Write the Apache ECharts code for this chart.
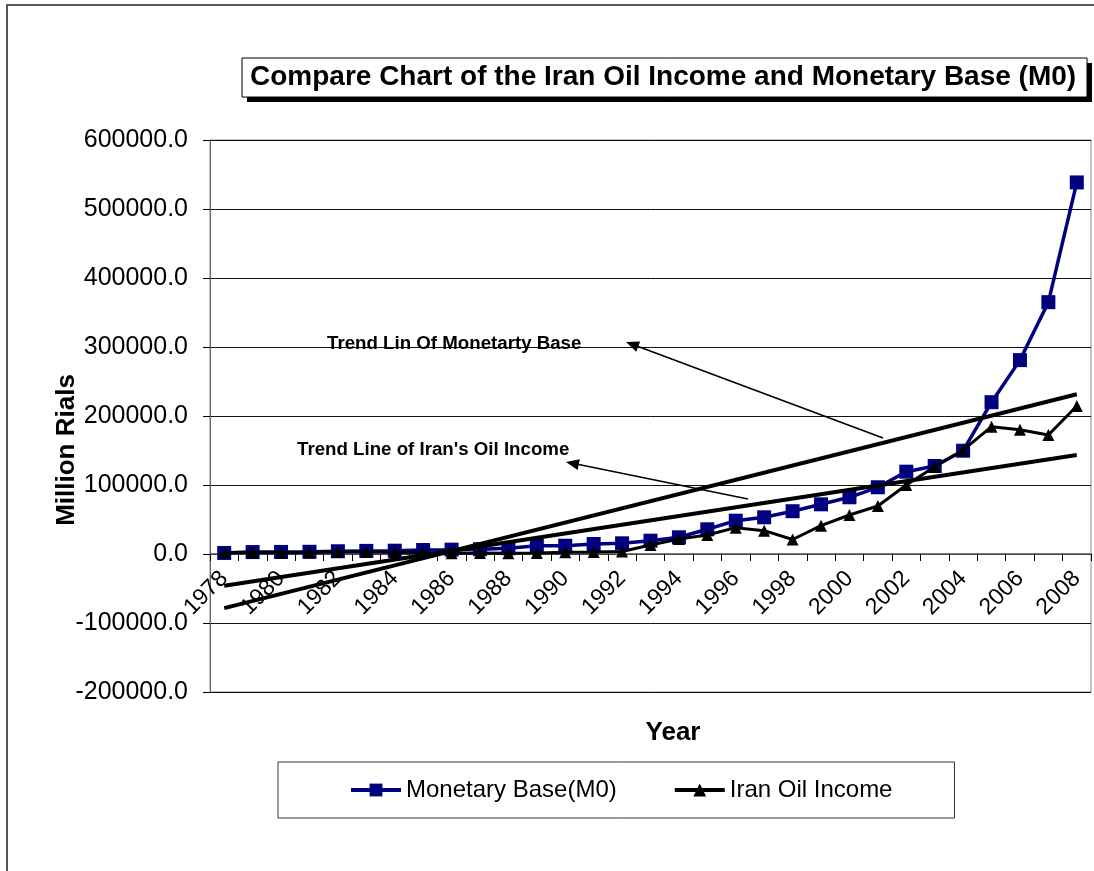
<!DOCTYPE html>
<html>
<head>
<meta charset="utf-8">
<script src="https://cdn.jsdelivr.net/npm/echarts@6/dist/echarts.min.js"></script>
<style>
html,body{margin:0;padding:0;background:#fff;}
#chart{width:1094px;height:871px;}
</style>
</head>
<body>
<div id="chart"></div>
<script>
// ---- data ----
const years = ['1978','1979','1980','1981','1982','1983','1984','1985','1986','1987',
  '1988','1989','1990','1991','1992','1993','1994','1995','1996','1997',
  '1998','1999','2000','2001','2002','2003','2004','2005','2006','2007','2008'];
const monetaryBase = [1500,2800,3000,3200,4000,4500,4800,5800,6300,7000,
  8300,12000,12000,14500,15500,19300,24200,35800,48300,53200,
  62000,72000,82200,96700,119300,127500,149700,220000,281000,365000,538500];
const oilIncome = [2000,2500,1800,2000,2800,3000,2500,1800,1200,1500,
  1200,1500,2500,2800,3500,13000,21700,27500,38200,33800,
  21000,41000,56500,69600,100000,126500,150500,184500,180000,172500,214500];
// trend line end points (first and last year)
const trendMonetaryEnds = [-78500, 231500];
const trendOilEnds = [-46000, 143500];
const yMin = -200000, yMax = 600000, yInterval = 100000;

const seriesNames = ['Monetary Base(M0)', 'Iran Oil Income'];
const titleText = 'Compare Chart of the Iran Oil Income and Monetary Base (M0)';
const annoMonetary = 'Trend Lin Of Monetarty Base';
const annoOil = "Trend Line of Iran's Oil Income";

function endsSeries(ends){
  const arr = years.map(() => null);
  arr[0] = ends[0];
  arr[arr.length - 1] = ends[1];
  return arr;
}

const FONT = "'Liberation Sans', Arial, sans-serif";
const W = 1094, H = 871;
const GRID = {left:210, right:3, top:140, bottom:179};
const plotH = H - GRID.top - GRID.bottom;
// place the category axis where the value axis crosses zero
const xAxisOffset = -plotH * (0 - yMin) / (yMax - yMin);

function arrow(tip, tail){
  const dx = tip[0]-tail[0], dy = tip[1]-tail[1];
  const len = Math.sqrt(dx*dx+dy*dy);
  const ux = dx/len, uy = dy/len;
  const L = 13, Wd = 5.5;
  const bx = tip[0]-L*ux, by = tip[1]-L*uy;
  const nx = -uy, ny = ux;
  return [
    {type:'line', shape:{x1:tail[0], y1:tail[1], x2:bx, y2:by}, style:{stroke:'#000', lineWidth:1.6}, z:100},
    {type:'polygon', shape:{points:[tip,[bx+Wd*nx,by+Wd*ny],[bx-Wd*nx,by-Wd*ny]]}, style:{fill:'#000'}, z:100}
  ];
}

const chart = echarts.init(document.getElementById('chart'));
chart.setOption({
  backgroundColor:'#fff',
  animation:false,
  textStyle:{fontFamily:FONT},
  title:{
    text:titleText,
    left:242, top:58,
    padding:[5,8,5,8],
    textStyle:{fontFamily:FONT, fontSize:28, fontWeight:'bold', color:'#000', lineHeight:29}
  },
  legend:{
    data:seriesNames,
    left:278, top:762,
    padding:[16,62,16,71],
    itemGap:56,
    itemWidth:50, itemHeight:16,
    borderColor:'#333', borderWidth:1,
    backgroundColor:'#fff',
    lineStyle:{width:4},
    textStyle:{fontFamily:FONT, fontSize:24, color:'#000'}
  },
  grid:{left:GRID.left, right:GRID.right, top:GRID.top, bottom:GRID.bottom, show:true, borderColor:'#888', borderWidth:1, containLabel:false},
  xAxis:{
    type:'category',
    data:years,
    boundaryGap:true,
    position:'bottom',
    offset:xAxisOffset,
    axisLine:{onZero:false, lineStyle:{color:'#555', width:1.5}},
    axisTick:{show:true, interval:0, alignWithLabel:false, length:7, lineStyle:{color:'#000'}},
    axisLabel:{interval:1, rotate:45, fontSize:23, color:'#000', margin:21, fontFamily:FONT},
    splitLine:{show:false}
  },
  yAxis:{
    type:'value',
    min:yMin, max:yMax, interval:yInterval,
    axisLine:{show:true, lineStyle:{color:'#666', width:1}},
    axisTick:{show:true, length:7, lineStyle:{color:'#000'}},
    axisLabel:{fontSize:25, color:'#000', margin:22, fontFamily:FONT, formatter:v => v.toFixed(1)},
    splitLine:{show:true, lineStyle:{color:'#111', width:1}}
  },
  series:[
    {name:seriesNames[0], type:'line', data:monetaryBase, symbol:'rect', symbolSize:14,
     lineStyle:{color:'#000080', width:3.5}, itemStyle:{color:'#000080'}, z:3},
    {name:seriesNames[1], type:'line', data:oilIncome, symbol:'triangle', symbolSize:12,
     lineStyle:{color:'#000', width:3}, itemStyle:{color:'#000'}, z:4},
    {name:'trendMonetary', type:'line', data:endsSeries(trendMonetaryEnds), connectNulls:true,
     symbol:'none', lineStyle:{color:'#000', width:4}, z:5, silent:true},
    {name:'trendOil', type:'line', data:endsSeries(trendOilEnds), connectNulls:true,
     symbol:'none', lineStyle:{color:'#000', width:4}, z:5, silent:true}
  ],
  graphic:[
    {type:'rect', shape:{x:7, y:5, width:1200, height:1000}, style:{fill:'none', stroke:'#222', lineWidth:1.5}, silent:true, z:-10},
    {type:'rect', shape:{x:247, y:63, width:845, height:39}, style:{fill:'#000'}, silent:true, z:-5},
    {type:'rect', shape:{x:242, y:58, width:845, height:39}, style:{fill:'#fff', stroke:'#000', lineWidth:1}, silent:true, z:-4},
    {type:'text', x:67, y:450, rotation:Math.PI/2,
     style:{text:'Million Rials', font:"bold 26px 'Liberation Sans', Arial, sans-serif", fill:'#000', textAlign:'center', textVerticalAlign:'middle'}},
    {type:'text', x:673, y:733,
     style:{text:'Year', font:"bold 26px 'Liberation Sans', Arial, sans-serif", fill:'#000', textAlign:'center', textVerticalAlign:'middle'}},
    {type:'text', x:327, y:344, z:100,
     style:{text:annoMonetary, font:"bold 18.7px 'Liberation Sans', Arial, sans-serif", fill:'#000', textAlign:'left', textVerticalAlign:'middle'}},
    {type:'text', x:297, y:450, z:100,
     style:{text:annoOil, font:"bold 18.7px 'Liberation Sans', Arial, sans-serif", fill:'#000', textAlign:'left', textVerticalAlign:'middle'}},
    ...arrow([626,342],[883,438]),
    ...arrow([566,462],[748,499])
  ]
});
</script>
</body>
</html>
